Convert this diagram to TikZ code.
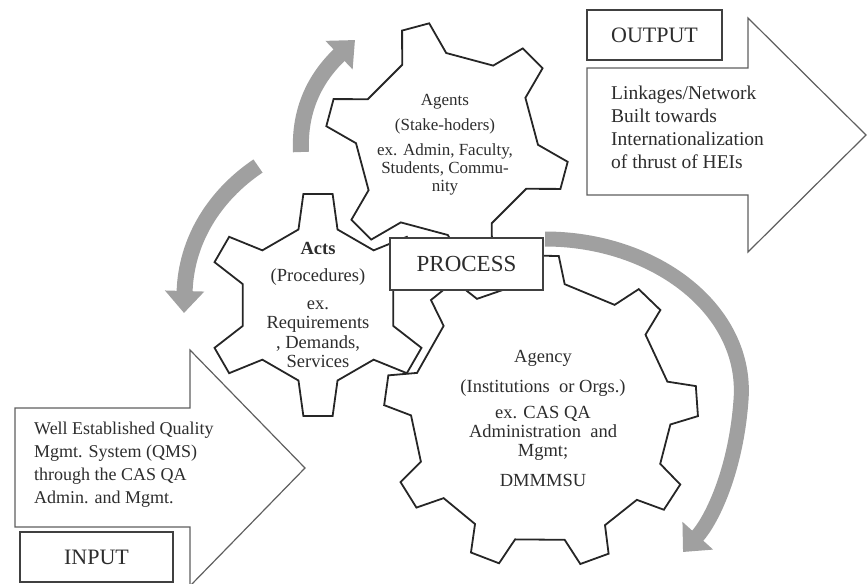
\documentclass[tikz,border=0pt]{standalone}
\usepackage{fontspec}
\setmainfont{Liberation Serif}
\usetikzlibrary{arrows.meta}
\definecolor{txt}{RGB}{45,45,45}
\definecolor{band}{RGB}{160,160,160}
\definecolor{outl}{RGB}{95,95,95}
\begin{document}
\begin{tikzpicture}[x=1pt,y=1pt,
  gearline/.style={line width=1.8pt, draw=black!85, line join=miter},
  arrowshape/.style={draw=outl, line width=1.2pt, fill=white, line join=miter},
  labelbox/.style={draw=black!75, line width=2pt, fill=white, inner sep=0pt, text=txt},
  grayarrow/.style={draw=band, line width=15pt, -{Triangle[width=40pt,length=22pt]}},
  smallgray/.style={draw=band, line width=16pt, -{Triangle[width=38pt,length=22pt]}},
  gtext/.style={text=txt, align=center, inner sep=0pt},
]
\useasboundingbox (0,0) rectangle (868,-584);

% big outline arrows
\draw[arrowshape] (587,-68) -- (748,-68) -- (748,-18) -- (866,-135) -- (748,-252) -- (748,-195) -- (587,-195) -- cycle;
\draw[arrowshape] (15,-408) -- (190,-408) -- (190,-350) -- (305,-468) -- (190,-586) -- (190,-527) -- (15,-527) -- cycle;

% gears
\begin{scope}[shift={(447,-144)}]
  \draw[gearline] ({45-14.5}:91) \foreach \a in {45,105,...,345}{ -- ({\a-14.5}:91) -- ({\a-6.6}:122) -- ({\a+6.6}:122) -- ({\a+14.5}:91)} -- cycle;
\end{scope}
\begin{scope}[shift={(318,-305)}]
  \draw[gearline] ({30-14.5}:78) \foreach \a in {30,90,...,330}{ -- ({\a-14.5}:78) -- ({\a-7.5}:112) -- ({\a+7.5}:112) -- ({\a+14.5}:78)} -- cycle;
\end{scope}
\begin{scope}[shift={(541,-412)}]
  \draw[gearline] ({4-9.5}:130) \foreach \a in {4,46,89,129,172,212,249,290,327}{ -- ({\a-9.5}:130) -- ({\a-5.5}:157) -- ({\a+5.5}:157) -- ({\a+9.5}:130)} -- cycle;
\end{scope}

% gray rotation arrows
\coordinate (r0) at (545,-239);
\coordinate (r1) at (741,-400);
\coordinate (r2) at (683,-552);
\draw[grayarrow] (r0) .. controls (655,-239) and (748,-310) .. (r1) .. controls (736,-470) and (712,-520) .. (r2);
\coordinate (u0) at (301,-152);
\coordinate (u1) at (355,-40);
\draw[smallgray] (u0) .. controls (299,-110) and (315,-78) .. (u1);
\coordinate (l0) at (258,-166);
\coordinate (l1) at (184,-313);
\draw[smallgray] (l0) .. controls (215,-195) and (186,-240) .. (l1);

% gear texts
\node[gtext, font=\fontsize{17}{18}\selectfont] (agents) at (445,-145)
  {Agents\\[7pt](Stake-hoders)\\[7pt]ex. Admin, Faculty,\\Students, Commu-\\nity};
\node[gtext, font=\fontsize{18.5}{19.5}\selectfont] (acts) at (318,-305)
  {\textbf{Acts}\\[8pt](Procedures)\\[8pt]ex.\\Requirements\\, Demands,\\Services};
\node[gtext, font=\fontsize{18.5}{19}\selectfont] (agency) at (543,-418)
  {Agency\\[11pt](Institutions \ or Orgs.)\\[7pt]ex. CAS QA\\Administration \ and\\Mgmt;\\[11pt]DMMMSU};

% arrow texts
\node[gtext, align=left, anchor=west, font=\fontsize{19.5}{23}\selectfont] (outtext) at (611,-127)
  {Linkages/Network\\Built towards\\Internationalization\\of thrust of HEIs};
\node[gtext, align=left, anchor=west, font=\fontsize{18}{23}\selectfont] (intext) at (34,-465)
  {Well Established Quality\\Mgmt. System (QMS)\\through the CAS QA\\Admin. and Mgmt.};

% label boxes
\node[labelbox, minimum width=135pt, minimum height=50pt, font=\fontsize{22}{24}\selectfont] (outbox) at (654.5,-35) {OUTPUT};
\node[labelbox, minimum width=153pt, minimum height=50pt, font=\fontsize{22}{24}\selectfont] (inbox) at (96.5,-557) {INPUT};
\node[labelbox, minimum width=153pt, minimum height=52pt, font=\fontsize{23}{25}\selectfont] (process) at (466.5,-264) {PROCESS};
\end{tikzpicture}
\end{document}
